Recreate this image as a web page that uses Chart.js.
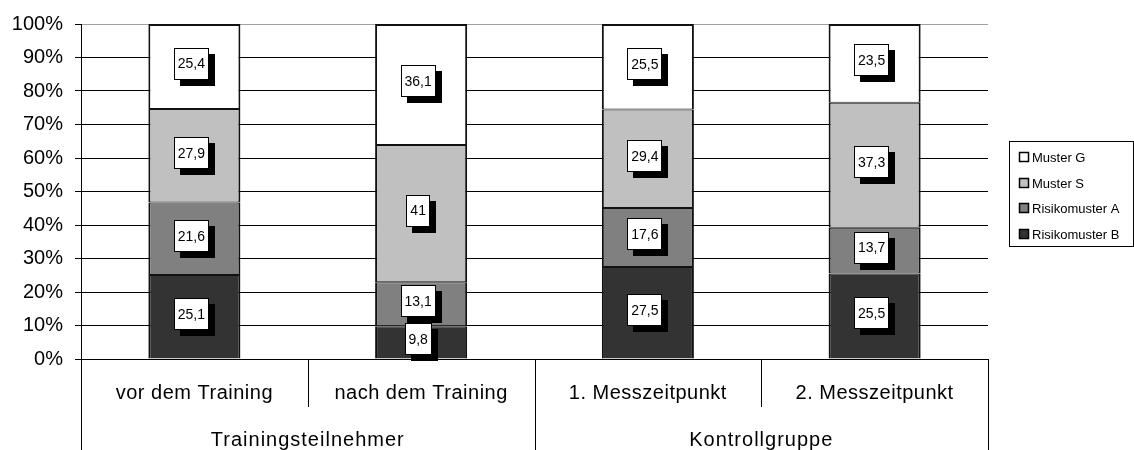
<!DOCTYPE html>
<html><head><meta charset="utf-8">
<script src="https://cdn.jsdelivr.net/npm/chart.js@4"></script>
<style>html,body{margin:0;padding:0;background:#fff}#wrap{width:1134px;height:450px}</style>
</head><body><div id="wrap"><canvas id="c" width="1134" height="450"></canvas></div>
<script>
const categories = ['vor dem Training', 'nach dem Training', '1. Messzeitpunkt', '2. Messzeitpunkt'];
const groups = ['Trainingsteilnehmer', 'Kontrollgruppe'];
const groupSizes = [2, 2];
const seriesNames = ['Risikomuster B', 'Risikomuster A', 'Muster S', 'Muster G'];
const risikomusterB = [25.1, 9.8, 27.5, 25.5];
const risikomusterA = [21.6, 13.1, 17.6, 13.7];
const musterS = [27.9, 41, 29.4, 37.3];
const musterG = [25.4, 36.1, 25.5, 23.5];
const seriesColors = ['#333333', '#808080', '#c0c0c0', '#ffffff'];

const FONT = "'Liberation Sans', Arial, sans-serif";

const datasets = [risikomusterB, risikomusterA, musterS, musterG].map((d, i, arr) => ({
  label: seriesNames[i],
  data: d,
  backgroundColor: seriesColors[i],
  borderColor: '#111',
  borderWidth: { left: 2, right: 2, top: i === arr.length - 1 ? 2 : 1, bottom: i === 0 ? 0 : 1 },
  borderSkipped: false,
  categoryPercentage: 1,
  barPercentage: 0.406
}));

const labelPlugin = {
  id: 'boxLabels',
  afterDatasetsDraw(chart) {
    const ctx = chart.ctx;
    ctx.save();
    ctx.font = '14px ' + FONT;
    ctx.textAlign = 'center';
    ctx.textBaseline = 'middle';
    chart.data.datasets.forEach((ds, di) => {
      const meta = chart.getDatasetMeta(di);
      meta.data.forEach((el, i) => {
        const txt = String(ds.data[i]).replace('.', ',');
        const tw = ctx.measureText(txt).width;
        const w = Math.round(tw + 8), h = 32;
        const cx = el.x - 3, cy = (el.y + el.base) / 2 - 3;
        const x0 = Math.round(cx - w / 2), y0 = Math.round(cy - h / 2);
        ctx.fillStyle = '#000';
        ctx.fillRect(x0 + 6, y0 + 6, w, h);
        ctx.fillStyle = '#fff';
        ctx.fillRect(x0, y0, w, h);
        ctx.strokeStyle = '#000';
        ctx.lineWidth = 1;
        ctx.strokeRect(x0 + 0.5, y0 + 0.5, w - 1, h - 1);
        ctx.fillStyle = '#000';
        ctx.fillText(txt, cx, cy + 1);
      });
    });
    ctx.restore();
  }
};

const axisPlugin = {
  id: 'multiAxis',
  afterDraw(chart) {
    const ctx = chart.ctx;
    const xs = chart.scales.x;
    const area = chart.chartArea;
    const n = categories.length;
    const step = xs.getPixelForValue(1) - xs.getPixelForValue(0);
    const edge = i => xs.getPixelForValue(i) - step / 2;
    ctx.save();
    ctx.strokeStyle = '#000';
    ctx.lineWidth = 1;
    let groupEdges = [0];
    let acc = 0;
    groupSizes.forEach(s => { acc += s; groupEdges.push(acc); });
    for (let i = 0; i <= n; i++) {
      const x = Math.round(edge(i)) + 0.5;
      const full = groupEdges.includes(i);
      ctx.beginPath();
      ctx.moveTo(x, area.bottom);
      ctx.lineTo(x, full ? chart.height : area.bottom + 48);
      ctx.stroke();
    }
    ctx.fillStyle = '#000';
    ctx.textAlign = 'center';
    ctx.textBaseline = 'alphabetic';
    ctx.font = '20px ' + FONT;
    ctx.letterSpacing = '0.5px';
    categories.forEach((c, i) => {
      ctx.fillText(c, xs.getPixelForValue(i), area.bottom + 40);
    });
    ctx.letterSpacing = '1px';
    groups.forEach((g, gi) => {
      const cx = (edge(groupEdges[gi]) + edge(groupEdges[gi + 1])) / 2;
      ctx.fillText(g, cx, area.bottom + 87);
    });
    ctx.restore();
  }
};

const legendPlugin = {
  id: 'boxLegend',
  afterDraw(chart) {
    const ctx = chart.ctx;
    ctx.save();
    const bx = 1009, by = 141, bw = 124, bh = 105;
    ctx.strokeStyle = '#000';
    ctx.lineWidth = 1;
    ctx.strokeRect(bx + 0.5, by + 0.5, bw, bh);
    ctx.font = '13px ' + FONT;
    ctx.textAlign = 'left';
    ctx.textBaseline = 'middle';
    const ys = [157, 183, 208, 234];
    for (let k = 0; k < seriesNames.length; k++) {
      const di = seriesNames.length - 1 - k;
      const y = ys[k];
      ctx.fillStyle = seriesColors[di];
      ctx.fillRect(1019, y - 5, 10, 10);
      ctx.strokeStyle = '#000';
      ctx.lineWidth = 1.5;
      ctx.strokeRect(1019.5, y - 4.5, 9, 9);
      ctx.fillStyle = '#000';
      ctx.fillText(seriesNames[di], 1032, y + 1);
    }
    ctx.restore();
  }
};

new Chart(document.getElementById('c'), {
  type: 'bar',
  data: { labels: categories, datasets },
  options: {
    responsive: false,
    animation: false,
    devicePixelRatio: 1,
    layout: { padding: { top: 22, right: 146, left: 0, bottom: 0 } },
    plugins: { legend: { display: false }, tooltip: { enabled: false } },
    scales: {
      x: {
        stacked: true,
        offset: true,
        ticks: { display: false },
        grid: { display: false },
        border: { color: '#000', width: 1 },
        afterFit(s) { s.height = 91; }
      },
      y: {
        stacked: true,
        min: 0, max: 100,
        ticks: {
          stepSize: 10,
          callback: v => v + '%',
          font: { family: FONT, size: 20 },
          color: '#000',
          padding: 12
        },
        grid: {
          color: c => (c.tick && c.tick.value === 100) ? '#a0a0a0' : '#000',
          tickColor: '#000',
          tickLength: 6,
          lineWidth: 1
        },
        border: { color: '#000', width: 1 },
        afterFit(s) { s.width = 81; }
      }
    }
  },
  plugins: [labelPlugin, axisPlugin, legendPlugin]
});
</script>
</body></html>
